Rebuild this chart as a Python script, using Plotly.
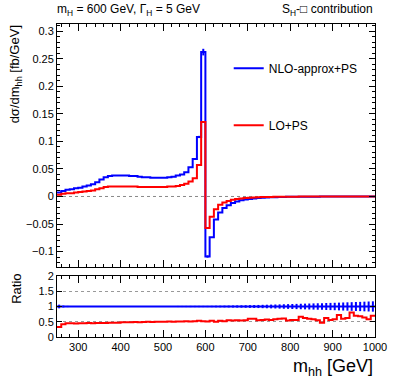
import plotly.graph_objects as go

# 10 GeV bins from 250 to 1000 GeV
bin_edges = list(range(250, 1001, 10))

# d sigma / d m_hh [fb/GeV], one value per bin
nlo_vals = [0.007, 0.010, 0.012, 0.013, 0.015, 0.016, 0.018, 0.020, 0.022, 0.026,
            0.031, 0.035, 0.037, 0.038, 0.038, 0.038, 0.038, 0.037, 0.037, 0.036,
            0.035, 0.035, 0.034, 0.034, 0.034, 0.034, 0.035, 0.036, 0.038, 0.040,
            0.044, 0.053, 0.068, 0.108, 0.262,
            -0.109, -0.074, -0.042, -0.029, -0.021, -0.016, -0.012, -0.009, -0.007, -0.0055,
            -0.0045, -0.0035, -0.0028, -0.0022, -0.0018, -0.0015, -0.0012, -0.0010, -0.0008, -0.0007,
            -0.0006, -0.0005, -0.0004, -0.0004, -0.0003, -0.0003, -0.0003, -0.0002, -0.0002, -0.0002,
            -0.0002, -0.0001, -0.0001, -0.0001, -0.0001, -0.0001, -0.0001, -0.0001, -0.0001, -0.0001]
nlo_errs = [0.0] * 33 + [0.002, 0.006, 0.002] + [0.0] * 39

lo_vals = [0.003, 0.005, 0.006, 0.006, 0.007, 0.008, 0.009, 0.010, 0.011, 0.013,
           0.015, 0.017, 0.018, 0.018, 0.018, 0.018, 0.018, 0.018, 0.018, 0.017,
           0.017, 0.017, 0.017, 0.017, 0.017, 0.017, 0.018, 0.018, 0.019, 0.021,
           0.023, 0.027, 0.033, 0.057, 0.135,
           -0.057, -0.037, -0.023, -0.015, -0.011, -0.008, -0.006, -0.0045, -0.0035, -0.0028,
           -0.0022, -0.0018, -0.0014, -0.0011, -0.0009, -0.0008, -0.0007, -0.0006, -0.0005, -0.0004,
           -0.0003, -0.0003, -0.0002, -0.0002, -0.0002, -0.0002, -0.0001, -0.0001, -0.0001, -0.0001,
           -0.0001, -0.0001, -0.0001, -0.0001, -0.0001, 0.0, 0.0, 0.0, 0.0, 0.0]

# ratio panel (LO / NLO-approx)
lo_ratio = [0.33, 0.42, 0.45, 0.45, 0.44, 0.45, 0.45, 0.46, 0.45, 0.46,
            0.46, 0.46, 0.47, 0.47, 0.47, 0.48, 0.48, 0.48, 0.49, 0.48,
            0.49, 0.50, 0.49, 0.50, 0.50, 0.50, 0.51, 0.50, 0.51, 0.51,
            0.52, 0.51, 0.52, 0.53, 0.52, 0.51, 0.53, 0.50, 0.53, 0.52,
            0.55, 0.54, 0.55, 0.54, 0.55, 0.60, 0.60, 0.55, 0.56, 0.57,
            0.56, 0.58, 0.60, 0.61, 0.54, 0.56, 0.56, 0.66, 0.62, 0.60,
            0.58, 0.55, 0.47, 0.62, 0.56, 0.58, 0.72, 0.60, 0.62, 0.80,
            0.70, 0.68, 0.64, 0.58, 0.70]
nlo_ratio = [1.0] * 75
nlo_ratio_errs = [0.06, 0.03, 0.02, 0.012, 0.01, 0.01, 0.01, 0.01, 0.01, 0.01,
                  0.01, 0.01, 0.01, 0.01, 0.01, 0.012, 0.012, 0.012, 0.012, 0.012,
                  0.014, 0.014, 0.014, 0.015, 0.015, 0.016, 0.016, 0.017, 0.018, 0.018,
                  0.019, 0.02, 0.02, 0.02, 0.02, 0.02, 0.022, 0.024, 0.026, 0.028,
                  0.03, 0.033, 0.036, 0.039, 0.042, 0.045, 0.048, 0.051, 0.055, 0.058,
                  0.062, 0.066, 0.07, 0.074, 0.078, 0.082, 0.086, 0.09, 0.094, 0.098,
                  0.102, 0.106, 0.11, 0.114, 0.118, 0.122, 0.127, 0.132, 0.137, 0.142,
                  0.147, 0.152, 0.158, 0.164, 0.17]

centers = [e + 5 for e in bin_edges[:-1]]

BLUE = '#0000ff'
RED = '#ff0000'
FONT = 'Liberation Sans, Arial, sans-serif'
NOMARK = dict(size=2, color='rgba(0,0,0,0)')


def step(vals):
    return vals + [vals[-1]]


fig = go.Figure()

fig.add_trace(go.Scatter(x=bin_edges, y=step(nlo_vals), mode='lines', line_shape='hv',
                         line=dict(color=BLUE, width=2), name='NLO-approx+PS',
                         legendgroup='nlo', xaxis='x', yaxis='y'))
fig.add_trace(go.Scatter(x=centers, y=nlo_vals, mode='markers', marker=NOMARK,
                         error_y=dict(type='data', array=nlo_errs, color=BLUE, thickness=2, width=0),
                         showlegend=False, hoverinfo='skip', xaxis='x', yaxis='y'))
fig.add_trace(go.Scatter(x=bin_edges, y=step(lo_vals), mode='lines', line_shape='hv',
                         line=dict(color=RED, width=2), name='LO+PS',
                         legendgroup='lo', xaxis='x', yaxis='y'))

# ratio panel
fig.add_trace(go.Scatter(x=bin_edges, y=step(nlo_ratio), mode='lines', line_shape='hv',
                         line=dict(color=BLUE, width=2), showlegend=False,
                         xaxis='x2', yaxis='y2'))
fig.add_trace(go.Scatter(x=centers, y=nlo_ratio, mode='markers', marker=NOMARK,
                         error_y=dict(type='data', array=nlo_ratio_errs, color=BLUE, thickness=2, width=0),
                         showlegend=False, hoverinfo='skip', xaxis='x2', yaxis='y2'))
fig.add_trace(go.Scatter(x=bin_edges, y=step(lo_ratio), mode='lines', line_shape='hv',
                         line=dict(color=RED, width=2), showlegend=False,
                         xaxis='x2', yaxis='y2'))

axis_common = dict(showline=True, linecolor='black', linewidth=1, mirror='allticks',
                   ticks='inside', tickcolor='black', showgrid=False, zeroline=False,
                   tickfont=dict(family=FONT, size=11, color='black'))

fig.update_layout(
    width=399, height=383,
    margin=dict(l=57, r=16, t=24, b=46),
    paper_bgcolor='white', plot_bgcolor='white',
    font=dict(family=FONT, color='black'),
    xaxis=dict(domain=[0, 1], range=[250, 1000], anchor='y', showticklabels=False,
               tick0=0, dtick=100, ticklen=7,
               minor=dict(dtick=20, ticklen=3, ticks='inside', tickcolor='black'),
               **axis_common),
    yaxis=dict(domain=[0.2236, 1], range=[-0.128, 0.313], anchor='x',
               tick0=0, dtick=0.05, ticklen=6,
               minor=dict(dtick=0.01, ticklen=3, ticks='inside', tickcolor='black'),
               **axis_common),
    xaxis2=dict(domain=[0, 1], range=[250, 1000], anchor='y2', matches='x',
                tick0=0, dtick=100, ticklen=7,
                minor=dict(dtick=20, ticklen=3, ticks='inside', tickcolor='black'),
                **axis_common),
    yaxis2=dict(domain=[0, 0.1949], range=[0, 2], anchor='x2',
                tickvals=[0, 0.5, 1, 1.5, 2], ticklen=5,
                **{**axis_common, 'showgrid': True}, gridcolor='#999999', griddash='dot', gridwidth=1),
    legend=dict(x=0.54, y=0.905, xanchor='left', yanchor='top', bgcolor='rgba(0,0,0,0)',
                font=dict(family=FONT, size=12, color='black'), tracegroupgap=38,
                itemwidth=30),
    showlegend=True,
)

# dashed zero line in the main panel
fig.add_hline(y=0, line=dict(color='#888888', width=1, dash='dot'), xref='x', yref='y', layer='below')

fig.add_annotation(text='m<sub>H</sub> = 600 GeV, Γ<sub>H</sub> = 5 GeV', xref='paper', yref='paper',
                   x=-0.005, y=1.045, xanchor='left', yanchor='middle', showarrow=False,
                   font=dict(family=FONT, size=12))
fig.add_annotation(text='S<sub>H</sub>-□ contribution', xref='paper', yref='paper',
                   x=1, y=1.045, xanchor='right', yanchor='middle', showarrow=False,
                   font=dict(family=FONT, size=12))
fig.add_annotation(text='dσ/dm<sub>hh</sub> [fb/GeV]', xref='paper', yref='paper',
                   x=-0.13, y=0.838, textangle=-90, xanchor='center', yanchor='middle',
                   showarrow=False, font=dict(family=FONT, size=13))
fig.add_annotation(text='Ratio', xref='paper', yref='paper',
                   x=-0.13, y=0.153, textangle=-90, xanchor='center', yanchor='middle',
                   showarrow=False, font=dict(family=FONT, size=13))
fig.add_annotation(text='m<sub>hh</sub> [GeV]', xref='paper', yref='paper',
                   x=1, y=-0.099, xanchor='right', yanchor='middle', showarrow=False,
                   font=dict(family=FONT, size=18))

fig.write_html('out.html', config={'displayModeBar': False},
               post_script="document.body.style.margin='0';")
